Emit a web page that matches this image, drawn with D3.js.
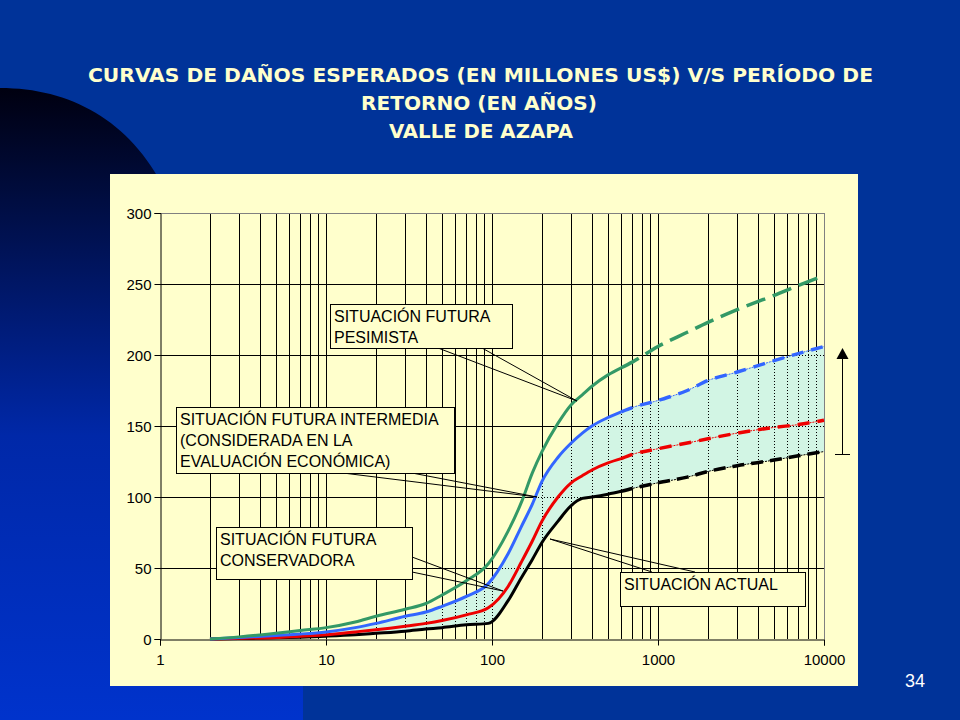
<!DOCTYPE html>
<html><head><meta charset="utf-8">
<script src="https://cdn.jsdelivr.net/npm/d3@7"></script>
<style>html,body{margin:0;padding:0;background:#003399;overflow:hidden}
.ax text{font-family:'Liberation Sans',Arial,sans-serif;font-size:15px;fill:#000}</style>
</head><body><svg id="c" width="960" height="720"></svg>
<script>
// ---- data ----
const titleLines = ["CURVAS DE DAÑOS ESPERADOS (EN MILLONES US$) V/S PERÍODO DE", "RETORNO (EN AÑOS)", "VALLE DE AZAPA"];
const periods = [2,3,5,7,10,15,20,30,40,50,70,95,125,150,175,200,250,300,350,400,500,600,700,1000,1500,2000,3000,5000,7000,10000];
const pesimista   = [0,1.5,4,6,8,12,16,21,25,31,41,53,76,96,117,132,152,165,172,178,186,191,195,206,216,223,232,242,249,256];
const intermedia  = [0,1,2.5,3.5,5,8,11,16,19,23,30,39,60,79,95,111,128,138,145,150,156,160,163,168,175,182,188,196,201,206];
const conservadora= [0,0.5,1,2,3,5,6.5,9,11,13,17,22,37,54,69,83,100,110,115,119,124,127,130,134,138,141,145,149,151,154];
const actual      = [0,0.3,0.8,1.3,2,3,4,5.5,7,8,10,11,27,43,56,68,83,94,99,100,102,104,106,110,114,118,122,126,129,132];
const xTicks = [1,10,100,1000,10000];
const yTicks = [0,50,100,150,200,250,300];
const solidUntil = 600;
const callouts = [
  {lines:["SITUACIÓN FUTURA","PESIMISTA"], box:[330,304,512,348], base:[[438,348],[482,348]], tip:[577,401]},
  {lines:["SITUACIÓN FUTURA INTERMEDIA","(CONSIDERADA EN LA","EVALUACIÓN ECONÓMICA)"], box:[176,407,454,473], base:[[343,473],[412,473]], tip:[537,497]},
  {lines:["SITUACIÓN FUTURA","CONSERVADORA"], box:[216,527,412,579], base:[[412,557],[412,572]], tip:[503,591]},
  {lines:["SITUACIÓN ACTUAL"], box:[620,572,805,606], base:[[652,572],[695,572]], tip:[550,539]}
];

// ---- drawing ----
const svg = d3.select("#c");
const defs = svg.append("defs");
const grad = defs.append("linearGradient").attr("id","lg").attr("x1",0).attr("y1",0).attr("x2",0).attr("y2",1);
grad.append("stop").attr("offset","0%").attr("stop-color","#000010");
grad.append("stop").attr("offset","55%").attr("stop-color","#0028A8");
grad.append("stop").attr("offset","100%").attr("stop-color","#0033CC");

svg.append("rect").attr("width",960).attr("height",720).attr("fill","#003399");
svg.append("path").attr("d","M0,88 C70,88 130,120 165,190 L303,400 L303,720 L0,720 Z").attr("fill","url(#lg)");

// title
const tl = [[88,873,82],[361,597,110],[389,573,138]];
titleLines.forEach((t,i)=>{
  svg.append("text").text(t).attr("x",tl[i][0]).attr("y",tl[i][2])
    .attr("textLength",tl[i][1]-tl[i][0]).attr("lengthAdjust","spacingAndGlyphs")
    .attr("font-family","'DejaVu Sans Condensed','DejaVu Sans',sans-serif").attr("font-weight","bold")
    .attr("font-size",19).attr("fill","#FFFFCC");
});

// panel
svg.append("rect").attr("x",110).attr("y",174).attr("width",748).attr("height",512).attr("fill","#FFFFCC");

const x = d3.scaleLog().domain([1,10000]).range([160,824]);
const y = d3.scaleLinear().domain([0,300]).range([639,213]);

const vgrid = [];
for (let d=1; d<10000; d*=10) for (let k=1;k<=9;k++){ const v=d*k; if(v>1) vgrid.push(v); }

const gridG = svg.append("g");
function drawGrid(g, dash){
  g.selectAll(".v").data(vgrid).join("line").attr("class","v")
    .attr("x1",d=>Math.round(x(d))+0.5).attr("x2",d=>Math.round(x(d))+0.5)
    .attr("y1",y(300)).attr("y2",y(0)).attr("stroke","#000").attr("stroke-width",1)
    .attr("stroke-dasharray",dash);
  g.selectAll(".h").data(yTicks.filter(v=>v>0&&v<300)).join("line").attr("class","h")
    .attr("x1",x(1)).attr("x2",x(10000)).attr("y1",d=>Math.round(y(d))+0.5).attr("y2",d=>Math.round(y(d))+0.5)
    .attr("stroke","#000").attr("stroke-width",1).attr("stroke-dasharray",dash);
}
drawGrid(gridG, null);
svg.append("line").attr("x1",x(1)).attr("x2",x(10000)).attr("y1",Math.round(y(300))+0.5).attr("y2",Math.round(y(300))+0.5).attr("stroke","#808080");
svg.append("line").attr("x1",Math.round(x(10000))+0.5).attr("x2",Math.round(x(10000))+0.5).attr("y1",y(300)).attr("y2",y(0)).attr("stroke","#808080");

const rows = (vals)=>periods.map((p,i)=>({p, v:vals[i]}));
const band = periods.map((p,i)=>({p, lo:actual[i], hi:intermedia[i]}));
const area = d3.area().x(d=>x(d.p)).y0(d=>y(d.lo)).y1(d=>y(d.hi)).curve(d3.curveMonotoneX);
defs.append("clipPath").attr("id","bandclip").append("path").attr("d",area(band));
svg.append("path").attr("d",area(band)).attr("fill","#D2F5E4");
const dotG = svg.append("g").attr("clip-path","url(#bandclip)");
drawGrid(dotG, "1,2");

// axes
const yAxis = d3.axisLeft(y).tickValues(yTicks).tickSize(6).tickPadding(3).tickFormat(d3.format("d"));
const xAxis = d3.axisBottom(x).tickValues(xTicks).tickSize(6).tickPadding(9).tickFormat(d3.format("d"));
const ya = svg.append("g").attr("class","ax").attr("transform","translate(160.5,0)").call(yAxis);
const xa = svg.append("g").attr("class","ax").attr("transform","translate(0,639.5)").call(xAxis);
[ya,xa].forEach(a=>{
  a.attr("font-size",null).attr("font-family",null);
  a.select(".domain").attr("stroke","#000");
  a.selectAll(".tick line").attr("stroke","#000");
  a.selectAll("text").attr("fill","#000");
});
ya.selectAll(".tick text").attr("dy","0.36em");

// series
const line = d3.line().x(d=>x(d.p)).y(d=>y(d.v)).curve(d3.curveMonotoneX);
const series = [
  {vals:actual, color:"#000000", dash:"12,7", thin:true},
  {vals:conservadora, color:"#EE0000", dash:"12,8", thin:true},
  {vals:intermedia, color:"#3366FF", dash:"12,8", thin:true},
  {vals:pesimista, color:"#339966", dash:"20,8", thin:false}
];
series.forEach(s=>{
  const r = rows(s.vals);
  const solid = r.filter(d=>d.p<=solidUntil);
  const dashed = r.filter(d=>d.p>=solidUntil);
  if (s.thin) svg.append("path").attr("d",line(dashed)).attr("fill","none").attr("stroke",s.color).attr("stroke-width",1).attr("stroke-dasharray","2,1");
  svg.append("path").attr("d",line(solid)).attr("fill","none").attr("stroke",s.color).attr("stroke-width",3).attr("stroke-linejoin","round");
  svg.append("path").attr("d",line(dashed)).attr("fill","none").attr("stroke",s.color).attr("stroke-width",3.5).attr("stroke-dasharray",s.dash);
});

// callouts
callouts.forEach(c=>{
  const g = svg.append("g");
  c.base.forEach(b=>g.append("line").attr("x1",b[0]).attr("y1",b[1]).attr("x2",c.tip[0]).attr("y2",c.tip[1]).attr("stroke","#000").attr("stroke-width",1));
  g.append("rect").attr("x",c.box[0]+0.5).attr("y",c.box[1]+0.5).attr("width",c.box[2]-c.box[0]).attr("height",c.box[3]-c.box[1])
    .attr("fill","#FFFFCC").attr("stroke","#000").attr("stroke-width",1);
  c.lines.forEach((t,i)=>g.append("text").text(t).attr("x",c.box[0]+4).attr("y",c.box[1]+18+i*21)
    .attr("font-family","'Liberation Sans',Arial,sans-serif").attr("font-size",16).attr("fill","#000"));
});

// range arrow
const ag = svg.append("g");
ag.append("line").attr("x1",842.5).attr("x2",842.5).attr("y1",y(130)).attr("y2",358).attr("stroke","#000").attr("stroke-width",1);
ag.append("line").attr("x1",835).attr("x2",850).attr("y1",Math.round(y(130))+0.5).attr("y2",Math.round(y(130))+0.5).attr("stroke","#000");
ag.append("path").attr("d","M842.5,348 L836.5,359 L848.5,359 Z").attr("fill","#000");

// page number
svg.append("text").text("34").attr("x",915).attr("y",687).attr("text-anchor","middle")
  .attr("font-family","'Liberation Sans',Arial,sans-serif").attr("font-size",18).attr("fill","#fff");
</script></body></html>
